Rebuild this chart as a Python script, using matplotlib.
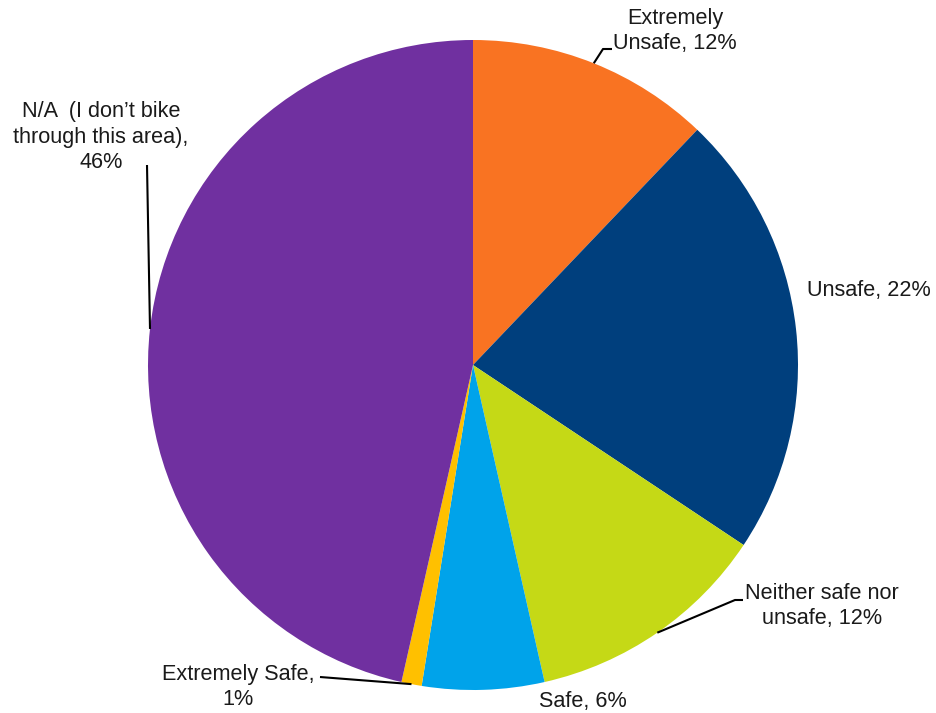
import numpy as np
import matplotlib.pyplot as plt

plt.rcParams['font.family'] = ['Liberation Sans', 'DejaVu Sans']

# survey answers, clockwise from 12 o'clock
categories = ["Extremely Unsafe", "Unsafe", "Neither safe nor unsafe",
              "Safe", "Extremely Safe", "N/A  (I don\u2019t bike through this area)"]
shares = [12, 22, 12, 6, 1, 46]
label_texts = ["Extremely\nUnsafe, 12%", "Unsafe, 22%", "Neither safe nor\nunsafe, 12%",
               "Safe, 6%", "Extremely Safe,\n1%", "N/A  (I don\u2019t bike\nthrough this area),\n46%"]
colors = ["#F97322", "#003F7D", "#C5D916", "#00A3EA", "#FFC000", "#7030A0"]

W, H = 937, 713
fig = plt.figure(figsize=(W / 100, H / 100), dpi=100)
ax = fig.add_axes([0, 0, 1, 1])

cx, cy, r = 473, 348, 325
wedges, _ = ax.pie(shares, colors=colors, startangle=90, counterclock=False,
                   center=(cx, cy), radius=r, frame=True,
                   wedgeprops=dict(linewidth=0))
ax.set_xlim(0, W)
ax.set_ylim(0, H)
ax.set_aspect("equal")
ax.axis("off")

# text placement (pixel coords, origin bottom-left), plus elbow for leader lines
layout = [
    dict(xy=(675, 682), ha="center", elbow=[(612, 664), (603, 664)]),
    dict(xy=(807, 422), ha="left", elbow=None),
    dict(xy=(822, 107), ha="center", elbow=[(743, 113), (735, 113)]),
    dict(xy=(583, 11), ha="center", elbow=None),
    dict(xy=(238, 26), ha="center", elbow=[(320, 36)]),
    dict(xy=(101, 576), ha="center", elbow=[(147, 548)]),
]

for w, txt, lay in zip(wedges, label_texts, layout):
    ax.text(lay["xy"][0], lay["xy"][1], txt, ha=lay["ha"], va="center",
            fontsize=15.6, color="#1a1a1a", linespacing=1.25, multialignment="center")
    if lay["elbow"]:
        mid = np.deg2rad((w.theta1 + w.theta2) / 2)
        ex, ey = cx + r * np.cos(mid), cy + r * np.sin(mid)
        pts = [(ex, ey)] + lay["elbow"][::-1]
        xs, ys = zip(*pts)
        ax.plot(xs, ys, color="black", linewidth=1.5, solid_capstyle="butt")

fig.savefig("out.png", dpi=100, facecolor="white")
